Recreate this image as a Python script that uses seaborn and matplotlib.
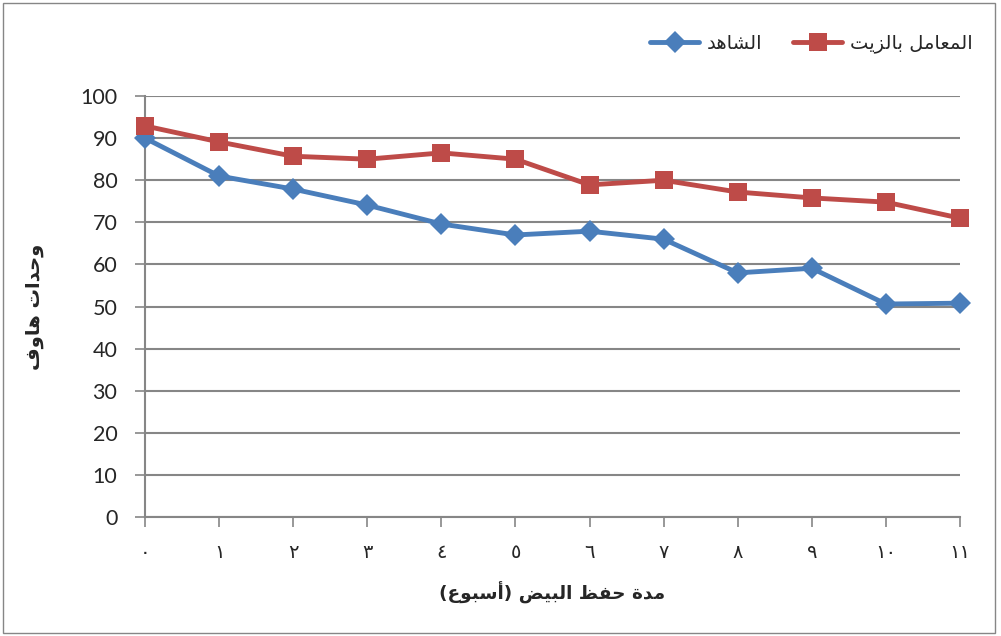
import numpy as np
import pandas as pd
import matplotlib
matplotlib.use("Agg")
import matplotlib.pyplot as plt
import seaborn as sns
from matplotlib.patches import Rectangle

# ========= DATA =========
weeks = [0, 1, 2, 3, 4, 5, 6, 7, 8, 9, 10, 11]
week_labels = ["٠", "١", "٢", "٣", "٤", "٥", "٦", "٧", "٨", "٩", "١٠", "١١"]
control = [90.0, 81.0, 77.9, 74.1, 69.6, 67.0, 67.9, 66.0, 58.0, 59.1, 50.6, 50.8]
oil_treated = [92.9, 89.1, 85.7, 85.0, 86.5, 85.0, 78.9, 80.0, 77.2, 75.8, 74.8, 71.0]
series_names = ["الشاهد", "المعامل بالزيت"]
y_ticks = [0, 10, 20, 30, 40, 50, 60, 70, 80, 90, 100]
x_title = "مدة حفظ البيض (أسبوع)"
y_title = "وحدات هاوف"

# ========= ARABIC SHAPING (matplotlib has no bidi / joining) =========
FORMS = {
    "\u0627": ("\uFE8D", "\uFE8E", None, None),
    "\u0623": ("\uFE83", "\uFE84", None, None),
    "\u0628": ("\uFE8F", "\uFE90", "\uFE91", "\uFE92"),
    "\u0629": ("\uFE93", "\uFE94", None, None),
    "\u062A": ("\uFE95", "\uFE96", "\uFE97", "\uFE98"),
    "\u062D": ("\uFEA1", "\uFEA2", "\uFEA3", "\uFEA4"),
    "\u062F": ("\uFEA9", "\uFEAA", None, None),
    "\u0632": ("\uFEAF", "\uFEB0", None, None),
    "\u0633": ("\uFEB1", "\uFEB2", "\uFEB3", "\uFEB4"),
    "\u0634": ("\uFEB5", "\uFEB6", "\uFEB7", "\uFEB8"),
    "\u0636": ("\uFEBD", "\uFEBE", "\uFEBF", "\uFEC0"),
    "\u0638": ("\uFEC5", "\uFEC6", "\uFEC7", "\uFEC8"),
    "\u0639": ("\uFEC9", "\uFECA", "\uFECB", "\uFECC"),
    "\u0641": ("\uFED1", "\uFED2", "\uFED3", "\uFED4"),
    "\u0644": ("\uFEDD", "\uFEDE", "\uFEDF", "\uFEE0"),
    "\u0645": ("\uFEE1", "\uFEE2", "\uFEE3", "\uFEE4"),
    "\u0647": ("\uFEE9", "\uFEEA", "\uFEEB", "\uFEEC"),
    "\u0648": ("\uFEED", "\uFEEE", None, None),
    "\u064A": ("\uFEF1", "\uFEF2", "\uFEF3", "\uFEF4"),
}


def ar(text):
    out = []
    for i, ch in enumerate(text):
        if ch not in FORMS:
            out.append(ch)
            continue
        prev = text[i - 1] if i > 0 else ""
        nxt = text[i + 1] if i + 1 < len(text) else ""
        iso, fin, ini, med = FORMS[ch]
        jp = prev in FORMS and FORMS[prev][2] is not None
        jn = ini is not None and nxt in FORMS
        if jp and jn:
            out.append(med)
        elif jp:
            out.append(fin)
        elif jn:
            out.append(ini)
        else:
            out.append(iso)
    s = "".join(reversed(out))
    return s.translate(str.maketrans("()", ")("))


# ========= PLOT =========
sns.set_style("white")
plt.rcParams["font.family"] = ["Lato", "DejaVu Sans"]

df = pd.DataFrame({
    "week": weeks * 2,
    "value": control + oil_treated,
    "group": [series_names[0]] * len(weeks) + [series_names[1]] * len(weeks),
})

BLUE = "#4A7EBB"
RED = "#BE4B48"
GRID = "#868686"

fig = plt.figure(figsize=(10.01, 6.36), dpi=100)
ax = fig.add_axes([0.1449, 0.187, 0.959 - 0.1449, 0.849 - 0.187])

sns.lineplot(data=df[df.group == series_names[0]], x="week", y="value",
             color=BLUE, lw=3.5, marker="D", markersize=11, markeredgewidth=0,
             ax=ax, clip_on=False, zorder=3, label=ar(series_names[0]))
sns.lineplot(data=df[df.group == series_names[1]], x="week", y="value",
             color=RED, lw=3.5, marker="s", markersize=13, markeredgewidth=0,
             ax=ax, clip_on=False, zorder=4, label=ar(series_names[1]))

ax.set_xlim(0, 11)
ax.set_ylim(0, 100)
ax.set_yticks(y_ticks)
ax.set_xticks(weeks)
ax.set_xticklabels(week_labels, family="DejaVu Sans", fontsize=14)
ax.tick_params(axis="y", labelsize=15.5, length=7, width=1.2, color=GRID, direction="out", pad=13, left=True)
ax.tick_params(axis="x", length=7, width=1.2, color=GRID, direction="out", pad=12, bottom=True)
ax.grid(axis="y", color=GRID, lw=1.5)
ax.grid(axis="x", visible=False)
for side in ["top", "right"]:
    ax.spines[side].set_visible(False)
for side in ["left", "bottom"]:
    ax.spines[side].set_color(GRID)
    ax.spines[side].set_linewidth(1.5)

ax.set_xlabel(ar(x_title), family="DejaVu Sans", fontweight="bold", fontsize=13.3, labelpad=14)
ax.set_ylabel(ar(y_title), family="DejaVu Sans", fontweight="bold", fontsize=14, labelpad=26)

leg = ax.legend(loc="upper right", bbox_to_anchor=(1.037, 1.19), ncol=2, frameon=False,
                prop={"family": "DejaVu Sans", "size": 14}, handlelength=2.5,
                columnspacing=1.6, handletextpad=0.4)

fig.patches.append(Rectangle((0.003, 0.005), 0.991, 0.99, transform=fig.transFigure,
                             fill=False, edgecolor=GRID, lw=1.0))

plt.savefig("out.png", dpi=100)
